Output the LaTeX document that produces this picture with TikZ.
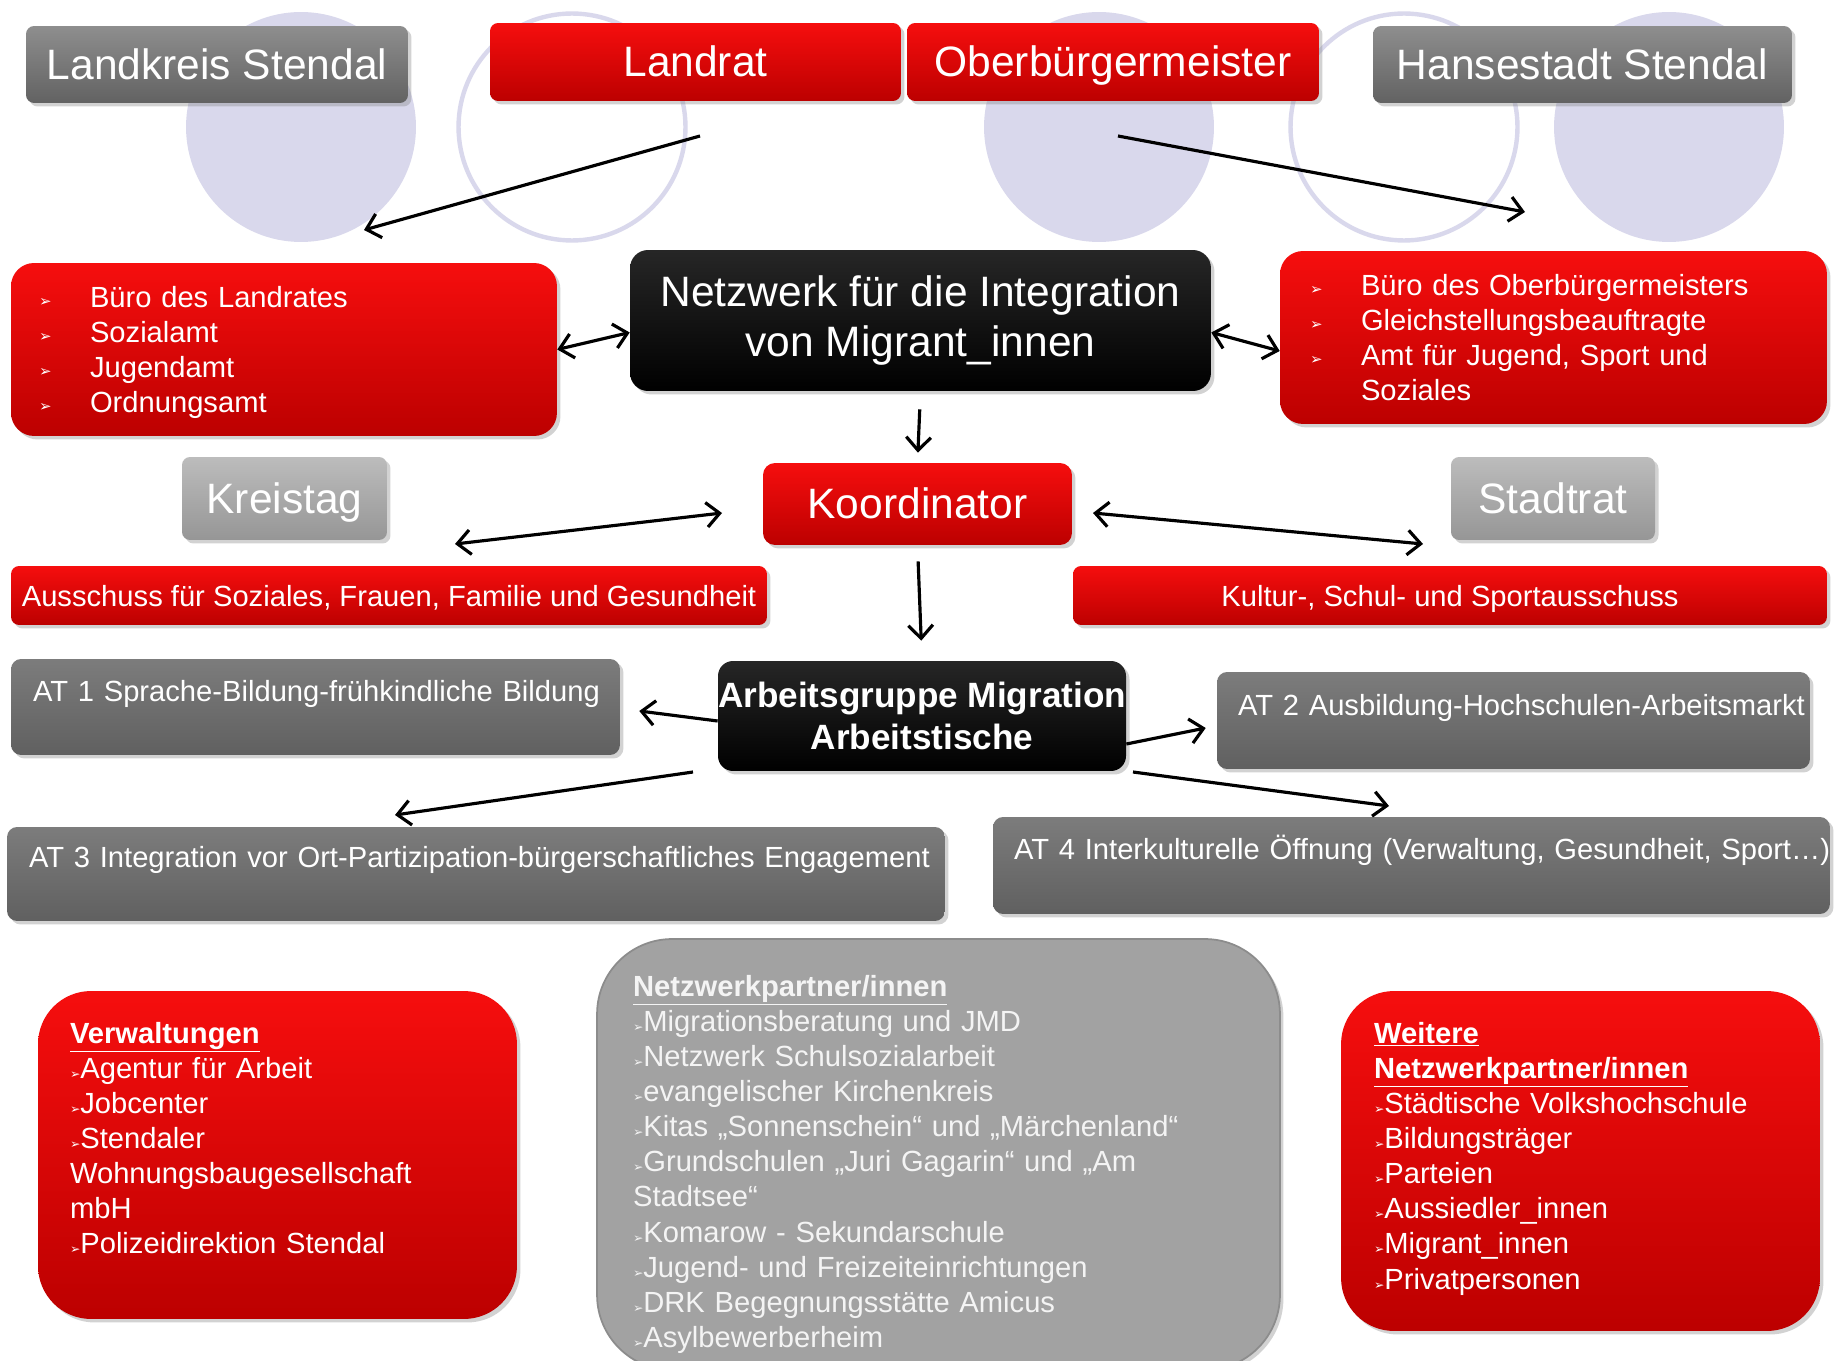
\documentclass[tikz,border=0pt]{standalone}
\usepackage{fontspec}
\setmainfont{Liberation Sans}
\newfontfamily\dejavu{DejaVu Sans}
\usetikzlibrary{shadows}
\usetikzlibrary{arrows.meta}

\definecolor{lav}{RGB}{217,216,236}
\definecolor{redtop}{RGB}{246,14,14}
\definecolor{redbot}{RGB}{188,0,0}
\definecolor{greytop}{RGB}{142,142,142}
\definecolor{greybot}{RGB}{98,98,98}
\definecolor{lgreytop}{RGB}{188,188,188}
\definecolor{lgreybot}{RGB}{150,150,150}
\definecolor{attop}{RGB}{124,124,124}
\definecolor{atbot}{RGB}{96,96,96}
\definecolor{partner}{RGB}{162,162,162}
\definecolor{partnertext}{RGB}{244,244,244}

\newcommand{\arrbul}[1]{{\dejavu\fontsize{#1}{#1}\selectfont ➢}}
\newcommand{\topbul}{\makebox[29pt][l]{\raisebox{0.5pt}{\arrbul{8.5}}}}

\tikzset{
  box/.style={rounded corners=0.16cm, text=white, inner sep=0pt,
    drop shadow={shadow xshift=0.07cm, shadow yshift=-0.07cm, opacity=0.35}},
  redbox/.style={box, top color=redtop, bottom color=redbot},
  greybox/.style={box, top color=greytop, bottom color=greybot},
  lgreybox/.style={box, top color=lgreytop, bottom color=lgreybot},
  blackbox/.style={box, top color=black!85, bottom color=black, rounded corners=0.36cm},
  atbox/.style={box, top color=attop, bottom color=atbot, rounded corners=0.2cm,
    align=left, font=\fontsize{16.6}{20}\selectfont},
  listbox/.style={align=left, font=\fontsize{16.6}{20}\selectfont},
  big/.style={font=\fontsize{24.2}{29}\selectfont},
  oneline/.style={big, text height=17.3pt, text depth=0.5pt},
  barline/.style={font=\fontsize{16.6}{20}\selectfont, text height=12pt, text depth=0pt},
  conn/.style={line width=1.8pt}
}

\begin{document}
\begin{tikzpicture}[x=0.02cm, y=-0.02cm, >={Straight Barb[length=7.5pt,width=14pt]}]
  \fill[white] (0,0) rectangle (1839,1361);
  \useasboundingbox (0,0) rectangle (1839,1361);
  % circles behind the top row
  \fill[lav] (301,127) circle (2.3cm);
  \draw[lav, line width=2.5pt] (572,127) circle (2.27cm);
  \fill[lav] (1099,127) circle (2.3cm);
  \draw[lav, line width=2.5pt] (1404,127) circle (2.27cm);
  \fill[lav] (1669,127) circle (2.3cm);

  % top row
  \node[greybox, oneline, minimum width=7.64cm, minimum height=1.54cm] (landkreis) at (217,64.5) {Landkreis Stendal};
  \node[redbox, oneline, minimum width=8.22cm, minimum height=1.56cm] (landrat) at (695.5,62) {Landrat};
  \node[redbox, oneline, minimum width=8.24cm, minimum height=1.56cm] (obm) at (1113,62) {Oberbürgermeister};
  \node[greybox, oneline, minimum width=8.38cm, minimum height=1.54cm] (hansestadt) at (1582.5,64.5) {Hansestadt Stendal};

  % second row
  \node[redbox, listbox, rounded corners=0.46cm, inner xsep=0.56cm, text width=9.8cm, text height=0.88cm, text depth=2.58cm] (buerolr) at (284,349.5)
    {\topbul Büro des Landrates\\ \topbul Sozialamt\\ \topbul Jugendamt\\ \topbul Ordnungsamt};
  \node[blackbox, big, align=center, minimum width=11.62cm, minimum height=2.82cm] (netzwerk) at (920.5,320.5)
    {Netzwerk für die Integration\\von Migrant\_innen};
  \node[redbox, listbox, rounded corners=0.46cm, inner xsep=0.6cm, text width=9.74cm, minimum height=3.46cm] (bueroobm) at (1553.5,337.5)
    {\topbul Büro des Oberbürgermeisters\\ \topbul Gleichstellungsbeauftragte\\ \topbul Amt für Jugend, Sport und\\ \hspace*{29pt}Soziales};

  % Koordinator row
  \node[lgreybox, oneline, minimum width=4.1cm, minimum height=1.66cm] (kreistag) at (284.5,498.5) {Kreistag};
  \node[redbox, oneline, rounded corners=0.24cm, minimum width=6.18cm, minimum height=1.64cm] (koordinator) at (917.5,504) {Koordinator};
  \node[lgreybox, oneline, minimum width=4.08cm, minimum height=1.66cm] (stadtrat) at (1553,498.5) {Stadtrat};
  \node[redbox, barline, minimum width=15.12cm, minimum height=1.18cm] (ausschussl) at (389,595.5)
    {Ausschuss für Soziales, Frauen, Familie und Gesundheit};
  \node[redbox, barline, minimum width=15.08cm, minimum height=1.18cm] (ausschussr) at (1450,595.5)
    {Kultur-, Schul- und Sportausschuss};

  % Arbeitsgruppe and Arbeitstische
  \node[blackbox, rounded corners=0.3cm, align=center, font=\fontsize{20}{24}\selectfont\bfseries, minimum width=8.16cm, minimum height=2.2cm] (ag) at (922,716)
    {Arbeitsgruppe Migration\\Arbeitstische};
  \node[atbox, inner xsep=0.44cm, text width=11.3cm, text height=0.84cm, text depth=1.08cm] (at1) at (315.5,707)
    {\mbox{AT 1 Sprache-Bildung-frühkindliche Bildung}};
  \node[atbox, inner xsep=0.42cm, text width=11.02cm, text height=0.86cm, text depth=1.08cm] (at2) at (1513.5,720.5)
    {\mbox{AT 2 Ausbildung-Hochschulen-Arbeitsmarkt}};
  \node[atbox, inner xsep=0.44cm, text width=17.88cm, text height=0.8cm, text depth=1.08cm] (at3) at (476,874)
    {\mbox{AT 3 Integration vor Ort-Partizipation-bürgerschaftliches Engagement}};
  \node[atbox, inner xsep=0.42cm, text width=15.9cm, text height=0.84cm, text depth=1.1cm] (at4) at (1411.5,865.5)
    {\mbox{AT 4 Interkulturelle Öffnung (Verwaltung, Gesundheit, Sport…)}};

  % bottom boxes
  \node[redbox, listbox, rounded corners=1.06cm, inner xsep=0.64cm, text width=8.3cm, text height=1.04cm, text depth=5.52cm] (verw) at (277.5,1155)
    {\underline{\textbf{Verwaltungen}}\\
     \arrbul{7}Agentur für Arbeit\\
     \arrbul{7}Jobcenter\\
     \arrbul{7}Stendaler\\
     Wohnungsbaugesellschaft\\
     mbH\\
     \arrbul{7}Polizeidirektion Stendal};
  \node[box, listbox, fill=partner, draw=black!45, line width=1pt, text=partnertext, rounded corners=1.5cm, inner xsep=0.72cm, text width=12.22cm, text height=1.14cm, text depth=7.48cm] (partner) at (938.5,1154.5)
    {\underline{\textbf{Netzwerkpartner/innen}}\\
     \arrbul{7}Migrationsberatung und JMD\\
     \arrbul{7}Netzwerk Schulsozialarbeit\\
     \arrbul{7}evangelischer Kirchenkreis\\
     \arrbul{7}Kitas „Sonnenschein“ und „Märchenland“\\
     \arrbul{7}Grundschulen „Juri Gagarin“ und „Am\\
     Stadtsee“\\
     \arrbul{7}Komarow - Sekundarschule\\
     \arrbul{7}Jugend- und Freizeiteinrichtungen\\
     \arrbul{7}DRK Begegnungsstätte Amicus\\
     \arrbul{7}Asylbewerberheim};
  \node[redbox, listbox, rounded corners=1.06cm, inner xsep=0.66cm, text width=8.26cm, text height=1.04cm, text depth=5.76cm] (weitere) at (1580.5,1161)
    {\underline{\textbf{Weitere}}\\
     \underline{\textbf{Netzwerkpartner/innen}}\\
     \arrbul{7}Städtische Volkshochschule\\
     \arrbul{7}Bildungsträger\\
     \arrbul{7}Parteien\\
     \arrbul{7}Aussiedler\_innen\\
     \arrbul{7}Migrant\_innen\\
     \arrbul{7}Privatpersonen};

  % arrows
  \coordinate (lrfrom) at (700,136);
  \coordinate (lrto) at (364,230);
  \coordinate (obmfrom) at (1118,136);
  \coordinate (obmto) at (1525,212);
  \coordinate (kreisend) at (455,544);
  \coordinate (kooleft) at (722,513);
  \coordinate (kooright) at (1093,513);
  \coordinate (stadtend) at (1423,544);
  \coordinate (agleft) at (693,772);
  \coordinate (atthree) at (395,815);
  \coordinate (agright) at (1133,772);
  \coordinate (atfour) at (1389,806);
  \draw[conn] (lrfrom) edge[->] (lrto);
  \draw[conn] (obmfrom) edge[->] (obmto);
  \draw[conn] (buerolr.east) edge[<->] ([yshift=-0.24cm]netzwerk.west);
  \draw[conn] ([yshift=-0.24cm]netzwerk.east) edge[<->] ([yshift=-0.27cm]bueroobm.west);
  \draw[conn] (netzwerk.south) edge[->, shorten <=0.36cm, shorten >=0.2cm] (koordinator.north);
  \draw[conn] (kreisend) edge[<->] (kooleft);
  \draw[conn] (kooright) edge[<->] (stadtend);
  \draw[conn] (koordinator.south) edge[->, shorten <=0.32cm, shorten >=0.4cm] (ag.north);
  \draw[conn] ([yshift=-0.1cm]ag.west) edge[->] ([xshift=0.38cm, yshift=-0.08cm]at1.east);
  \draw[conn] ([yshift=-0.56cm]ag.east) edge[->] ([xshift=-0.22cm, yshift=-0.15cm]at2.west);
  \draw[conn] (agleft) edge[->] (atthree);
  \draw[conn] (agright) edge[->] (atfour);
\end{tikzpicture}
\end{document}
